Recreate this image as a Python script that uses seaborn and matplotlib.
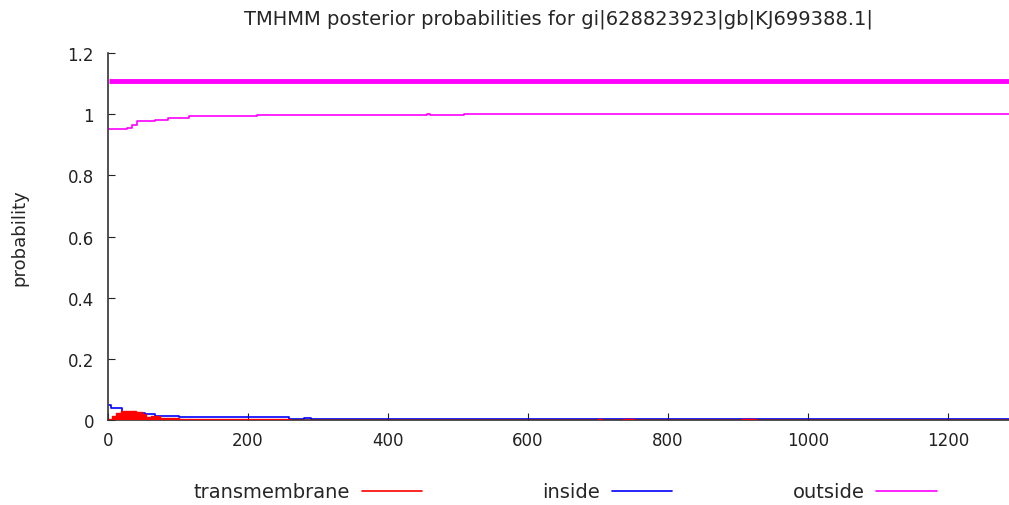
import numpy as np
import pandas as pd
import seaborn as sns
import matplotlib.pyplot as plt
from matplotlib.ticker import FormatStrFormatter

# posterior probabilities (step breakpoints)
seq_len = 1287

inside_pos = [1, 5, 20, 53, 67, 102, 259, 280, 290, 1287]
inside_val = [0.049, 0.039, 0.023, 0.019, 0.014, 0.010, 0.003, 0.006, 0.003, 0.003]

outside_pos = [1, 27, 35, 41, 67, 86, 116, 213, 455, 460, 508, 1287]
outside_val = [0.952, 0.955, 0.965, 0.978, 0.982, 0.988, 0.994, 0.997, 1.0, 0.997, 1.0, 1.0]

tm_pos = [1, 6, 12, 18, 40, 48, 55, 62, 75, 102, 259, 700, 705, 735, 752, 905, 925, 1287]
tm_val = [0.004, 0.012, 0.022, 0.03, 0.025, 0.018, 0.01, 0.014, 0.006, 0.003, 0.0,
          0.004, 0.0, 0.004, 0.0, 0.004, 0.0, 0.0]

# predicted topology (outside over whole sequence)
topo_start = [1]
topo_end = [1287]
topo_level = 1.11

sns.set_style("ticks")
plt.rcParams["font.family"] = ["DejaVu Sans"]

inside_df = pd.DataFrame({"pos": inside_pos, "prob": inside_val})
outside_df = pd.DataFrame({"pos": outside_pos, "prob": outside_val})

fig = plt.figure(figsize=(10.09, 5.06), dpi=100)
ax = fig.add_axes([0.107, 0.168, 0.893, 0.725])

sns.lineplot(data=inside_df, x="pos", y="prob", ax=ax, color="#0000ff", lw=1.2,
             drawstyle="steps-post", label="inside")
sns.lineplot(data=outside_df, x="pos", y="prob", ax=ax, color="#ff00ff", lw=1.2,
             drawstyle="steps-post", label="outside")
ax.fill_between(tm_pos, tm_val, 0, step="post", color="#ff0000", lw=0, zorder=3)
ax.step(tm_pos, tm_val, where="post", color="#ff0000", lw=1, zorder=3)
ax.hlines([topo_level] * len(topo_start), topo_start, topo_end, color="#ff00ff", lw=3.5)

ax.set_xlim(0, seq_len)
ax.set_ylim(0, 1.2)
ax.set_xticks(range(0, 1201, 200))
ax.set_yticks(np.arange(0, 1.21, 0.2))
ax.yaxis.set_major_formatter(FormatStrFormatter("%g"))
ax.tick_params(direction="in", length=5, labelsize=12, colors="#222222", pad=10)
ax.tick_params(axis="x", pad=8)
for s in ["top", "right"]:
    ax.spines[s].set_visible(False)
for s in ["left", "bottom"]:
    ax.spines[s].set_color("#333333")
    ax.spines[s].set_linewidth(1.2)

ax.set_xlabel("")
ax.set_ylabel("probability", fontsize=13)
ax.yaxis.set_label_coords(-0.088, 0.5)
ax.set_title("TMHMM posterior probabilities for gi|628823923|gb|KJ699388.1|",
             fontsize=14, pad=21)

ax.get_legend().remove()
handles = [plt.Line2D([], [], color="#ff0000", lw=1.2),
           plt.Line2D([], [], color="#0000ff", lw=1.2),
           plt.Line2D([], [], color="#ff00ff", lw=1.2)]
fig.legend(handles, ["transmembrane", "inside", "outside"], loc="center",
           bbox_to_anchor=(0.56, 0.026), ncol=3, frameon=False, markerfirst=False,
           fontsize=14, handlelength=3.1, handletextpad=0.6, columnspacing=6.2,
           borderpad=0)

fig.savefig("out.png", dpi=100)
